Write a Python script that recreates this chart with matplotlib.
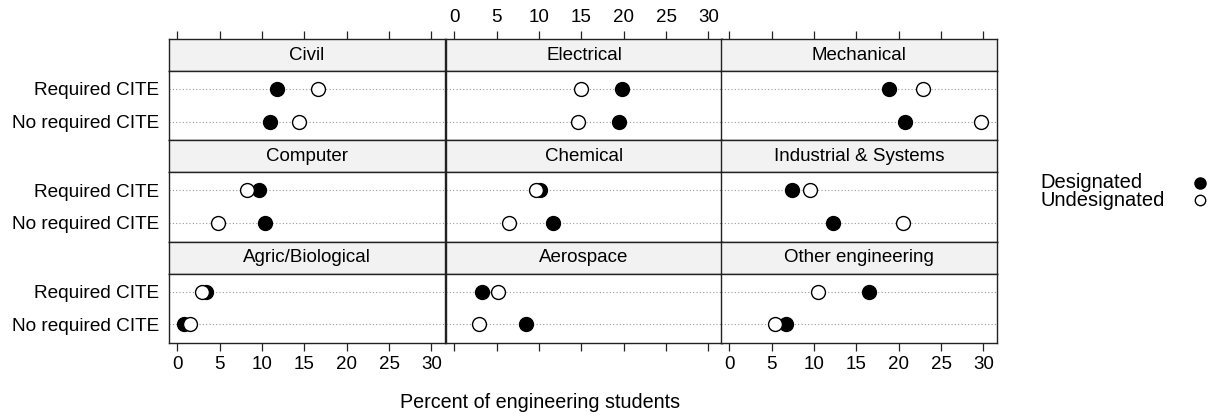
import matplotlib
matplotlib.use("Agg")
import matplotlib.pyplot as plt

plt.rcParams.update({
    'font.family': ['Liberation Sans', 'DejaVu Sans'],
    'font.size': 13,
})

# ---------------------
# Data (percent of engineering students)
# ---------------------
disciplines = ["Civil", "Electrical", "Mechanical",
               "Computer", "Chemical", "Industrial & Systems",
               "Agric/Biological", "Aerospace", "Other engineering"]
cite_levels = ["No required CITE", "Required CITE"]

designated_required = [11.8, 19.8, 18.8, 9.6, 10.1, 7.4, 3.4, 3.3, 16.5]
designated_no_required = [10.9, 19.4, 20.7, 10.3, 11.6, 12.2, 0.8, 8.4, 6.7]
undesignated_required = [16.6, 14.9, 22.9, 8.2, 9.6, 9.5, 2.9, 5.2, 10.5]
undesignated_no_required = [14.3, 14.6, 29.7, 4.8, 6.5, 20.5, 1.5, 2.9, 5.4]

legend_labels = ["Designated", "Undesignated"]
xticks = [0, 5, 10, 15, 20, 25, 30]

# ---------------------
# Layout (pixel based, lattice style)
# ---------------------
W, H = 1217, 416
fig = plt.figure(figsize=(W / 100, H / 100), dpi=100)

col_left = [169, 446, 721]
col_w = 276
row_top = 39
row_pitch = 101.4
strip_h = 32
panel_h = row_pitch - strip_h

border = '#222222'

for i, name in enumerate(disciplines):
    r, c = divmod(i, 3)
    x0 = col_left[c]
    top = row_top + r * row_pitch
    # strip
    sax = fig.add_axes([x0 / W, 1 - (top + strip_h) / H, col_w / W, strip_h / H])
    sax.set_facecolor('#f2f2f2')
    sax.set_xticks([])
    sax.set_yticks([])
    sax.text(0.5, 0.5, name, ha='center', va='center', transform=sax.transAxes,
             fontsize=13.5)
    for s in sax.spines.values():
        s.set_color(border)
        s.set_linewidth(1.0)

    # panel
    ax = fig.add_axes([x0 / W, 1 - (top + row_pitch) / H, col_w / W, panel_h / H])
    for s in ax.spines.values():
        s.set_color(border)
        s.set_linewidth(1.0)
    ax.set_xlim(-1.0, 31.6)
    ax.set_ylim(0.42, 2.55)

    yvals = [1, 2]
    for y in yvals:
        ax.axhline(y, color='#999999', lw=0.8, ls=(0, (1, 2)), zorder=1)

    ax.plot([designated_no_required[i], designated_required[i]], yvals,
            ls='none', marker='o', ms=10, mfc='black', mec='black', zorder=3)
    ax.plot([undesignated_no_required[i], undesignated_required[i]], yvals,
            ls='none', marker='o', ms=10, mfc='white', mec='black', mew=1.0, zorder=4)

    ax.set_yticks(yvals)
    if c == 0:
        ax.set_yticklabels(cite_levels, fontsize=13.7)
        ax.tick_params(axis='y', length=0, pad=7)
    else:
        ax.set_yticklabels([])
        ax.tick_params(axis='y', length=0)

    ax.set_xticks(xticks)
    ax.tick_params(axis='x', length=6, width=0.9, color=border, labelsize=13.5)
    if r == 2:
        if c == 1:
            ax.set_xticklabels([])
        else:
            ax.set_xticklabels(xticks)
    else:
        ax.tick_params(axis='x', bottom=False, labelbottom=False)

    if r == 0:
        # ticks on top of the strip row
        sax.set_xlim(-1.0, 31.6)
        sax.set_xticks(xticks)
        sax.tick_params(axis='x', top=True, bottom=False, labelbottom=False,
                        labeltop=(c == 1), length=6, width=0.9, color=border,
                        labelsize=13.5)

fig.text(540 / W, 1 - 403 / H, "Percent of engineering students",
         ha='center', va='center', fontsize=14.2)

# legend (text left aligned, key on the right)
lax = fig.add_axes([1030 / W, 1 - 212 / H, 187 / W, 42 / H])
lax.set_xlim(0, 187)
lax.set_ylim(42, 0)
lax.axis('off')
key_y = [13, 30]
lax.plot([170], [key_y[0]], ls='none', marker='o', ms=8, mfc='black', mec='black')
lax.plot([170], [key_y[1]], ls='none', marker='o', ms=7.5, mfc='white', mec='black')
for lbl, y in zip(legend_labels, key_y):
    lax.text(10, y, lbl, ha='left', va='center', fontsize=14.5)

fig.savefig("out.png", dpi=100)
